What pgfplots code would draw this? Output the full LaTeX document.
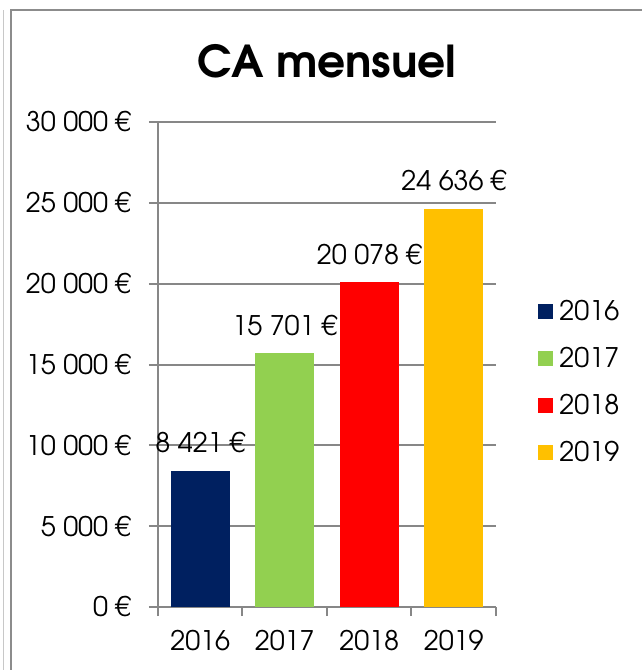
\documentclass[border=0pt]{standalone}
\usepackage{pgfplots}
\pgfplotsset{compat=1.18}
\usepackage{fontspec}
\setmainfont{TeX Gyre Adventor}
\definecolor{c16}{HTML}{002060}
\definecolor{c17}{HTML}{92D050}
\definecolor{c18}{HTML}{FF0000}
\definecolor{c19}{HTML}{FFC000}
\definecolor{axgray}{HTML}{878787}
\definecolor{frgray}{HTML}{8C8C8C}
\definecolor{frlight}{HTML}{C8C8C8}
\newcommand{\lblfont}{\fontsize{13.5}{16}\selectfont}
\begin{document}
\begin{tikzpicture}
\useasboundingbox (0,0) rectangle (321pt,335pt);
% cadre
\draw[line width=0.5pt, frlight] (1.5pt,0) -- (1.5pt,330pt);
\draw[line width=0.8pt, frgray] (5.5pt,0) -- (5.5pt,330pt) -- (321pt,330pt);
\node[font=\fontsize{22}{27}\selectfont\bfseries, anchor=base] at (163.5pt,296pt) {CA mensuel};
\begin{axis}[
  at={(79pt,31.5pt)}, anchor=south west, scale only axis,
  width=169pt, height=242.5pt,
  xmin=-0.5, xmax=3.5, ymin=0, ymax=30000,
  axis x line*=bottom, axis y line*=left,
  axis line style={axgray, line width=1pt},
  tick style={axgray, line width=1pt},
  tick align=outside, major tick length=4.5pt,
  ymajorgrids, major grid style={axgray, line width=1pt},
  scaled y ticks=false,
  ytick={0,5000,...,30000},
  yticklabels={0 €,5 000 €,10 000 €,15 000 €,20 000 €,25 000 €,30 000 €},
  yticklabel style={anchor=east, inner sep=0pt, xshift=-9pt},
  xtick={-0.5,0.5,1.5,2.5,3.5}, xticklabels={},
  extra x ticks={0,1,2,3},
  extra x tick labels={2016,2017,2018,2019},
  extra x tick style={major tick length=0pt, xticklabel style={anchor=base, yshift=-21.5pt}},
  tick label style={font=\lblfont},
  clip=false,
  every axis plot post/.append style={ybar, bar shift=0pt, bar width=29.5pt,
    legend image code/.code={\fill[##1] (0pt,-3.75pt) rectangle (7.5pt,3.75pt);}},
  point meta=explicit symbolic,
  nodes near coords,
  nodes near coords style={anchor=base, yshift=9pt, font=\lblfont, text=black},
  legend style={at={(1.1243,0.463)}, anchor=west, draw=none, fill=none,
    inner sep=0pt, row sep=0pt, column sep=3pt, font=\lblfont,
    nodes={inner sep=0pt, minimum height=23.5pt}},
  legend cell align=left,
]
\addplot[fill=c16, draw=none] coordinates {(0,8421) [8 421 €]};
\addplot[fill=c17, draw=none] coordinates {(1,15701) [15 701 €]};
\addplot[fill=c18, draw=none] coordinates {(2,20078) [20 078 €]};
\addplot[fill=c19, draw=none] coordinates {(3,24636) [24 636 €]};
\legend{2016,2017,2018,2019}
\end{axis}
\end{tikzpicture}
\end{document}
